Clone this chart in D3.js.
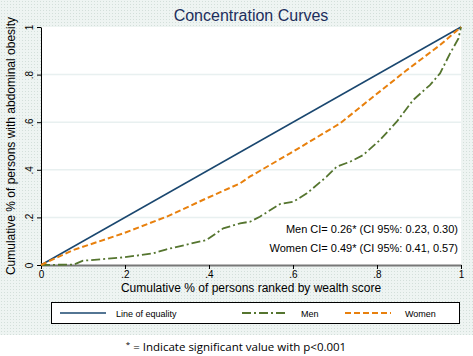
<!DOCTYPE html>
<html>
<head>
<meta charset="utf-8">
<script src="https://cdn.jsdelivr.net/npm/d3@7"></script>
<style>
  body { margin: 0; background: #fff; }
  svg { display: block; font-family: "Liberation Sans", Arial, sans-serif; }
</style>
</head>
<body>
<div id="chart"></div>
<script>
var tickValues = [0, 0.2, 0.4, 0.6, 0.8, 1];
var tickLabels = ["0", ".2", ".4", ".6", ".8", "1"];

var equalityX = [0, 1];
var equalityY = [0, 1];

var womenX = [0, 0.077, 0.196, 0.299, 0.394, 0.474, 0.498, 0.593, 0.712, 0.791, 0.871, 0.95, 1];
var womenY = [0, 0.063, 0.133, 0.203, 0.28, 0.343, 0.372, 0.469, 0.595, 0.707, 0.819, 0.924, 1];

var menX = [0, 0.079, 0.1, 0.196, 0.267, 0.299, 0.394, 0.434, 0.474, 0.498, 0.521, 0.569, 0.601, 0.633, 0.68, 0.704, 0.736, 0.767, 0.807, 0.847, 0.886, 0.926, 0.95, 0.974, 0.994, 1];
var menY = [0, 0.002, 0.018, 0.032, 0.049, 0.066, 0.105, 0.154, 0.175, 0.182, 0.203, 0.256, 0.266, 0.301, 0.371, 0.413, 0.434, 0.462, 0.525, 0.602, 0.693, 0.756, 0.805, 0.889, 0.952, 1];

var ciTexts = ["Men CI= 0.26* (CI 95%: 0.23, 0.30)", "Women CI= 0.49* (CI 95%: 0.41, 0.57)"];

var W = 473, H = 356;
var plot = { left: 41, right: 461, top: 27, bottom: 265 };

var svg = d3.select("#chart").append("svg")
    .attr("width", W)
    .attr("height", H);

// dotted Stata-like background
var defs = svg.append("defs");
var pat = defs.append("pattern")
    .attr("id", "dots")
    .attr("width", 3).attr("height", 3)
    .attr("patternUnits", "userSpaceOnUse");
pat.append("rect").attr("width", 3).attr("height", 3).attr("fill", "#eef4f2");
pat.append("rect").attr("x", 1).attr("y", 1).attr("width", 1).attr("height", 1).attr("fill", "#d3dfda");

svg.append("rect")
    .attr("x", 0).attr("y", 0)
    .attr("width", W).attr("height", 335)
    .attr("fill", "url(#dots)");

var x = d3.scaleLinear().domain([0, 1]).range([plot.left, plot.right]);
var y = d3.scaleLinear().domain([0, 1]).range([plot.bottom, plot.top]);

// plot region
svg.append("rect")
    .attr("x", plot.left).attr("y", plot.top)
    .attr("width", plot.right - plot.left)
    .attr("height", plot.bottom - plot.top)
    .attr("fill", "#fff");

// gridlines
svg.append("g")
    .selectAll("line")
    .data(tickValues.slice(1, 5))
    .enter().append("line")
    .attr("x1", plot.left).attr("x2", plot.right)
    .attr("y1", function(d) { return y(d); })
    .attr("y2", function(d) { return y(d); })
    .attr("stroke", "#e8f0f0")
    .attr("stroke-width", 1.5);

// title
svg.append("text")
    .attr("x", 251).attr("y", 21)
    .attr("text-anchor", "middle")
    .style("font-size", "16px")
    .style("fill", "#1c2e5c")
    .text("Concentration Curves");

// axes
var xAxis = svg.append("g")
    .attr("transform", "translate(0," + plot.bottom + ")")
    .call(d3.axisBottom(x).tickValues(tickValues)
        .tickFormat(function(d, i) { return tickLabels[i]; })
        .tickSize(4).tickSizeOuter(0));
xAxis.select(".domain").attr("stroke", "#777").attr("stroke-width", 2);
xAxis.selectAll(".tick line").attr("stroke", "#000");
xAxis.selectAll("text")
    .attr("y", 6)
    .style("font-size", "10px")
    .style("font-family", "Liberation Sans, Arial, sans-serif");

var yAxis = svg.append("g")
    .attr("transform", "translate(" + plot.left + ",0)")
    .call(d3.axisLeft(y).tickValues(tickValues)
        .tickFormat(function(d, i) { return tickLabels[i]; })
        .tickSize(4).tickSizeOuter(0));
yAxis.select(".domain").attr("stroke", "#000");
yAxis.selectAll(".tick line").attr("stroke", "#000");
yAxis.selectAll("text")
    .attr("x", 0).attr("dy", 0)
    .attr("text-anchor", "middle")
    .attr("transform", "translate(-8,0) rotate(-90)")
    .style("font-size", "10px")
    .style("font-family", "Liberation Sans, Arial, sans-serif");

// axis titles
svg.append("text")
    .attr("transform", "translate(15," + ((plot.top + plot.bottom) / 2) + ") rotate(-90)")
    .attr("text-anchor", "middle")
    .style("font-size", "12px")
    .text("Cumulative % of persons with abdominal obesity");

svg.append("text")
    .attr("x", 251).attr("y", 292)
    .attr("text-anchor", "middle")
    .style("font-size", "12px")
    .text("Cumulative % of persons ranked by wealth score");

// curves
var line = d3.line()
    .x(function(d) { return x(d[0]); })
    .y(function(d) { return y(d[1]); });

var series = [
    { name: "Line of equality", xs: equalityX, ys: equalityY, color: "#1a476f", dash: null, width: 1.5 },
    { name: "Men", xs: menX, ys: menY, color: "#55752f", dash: "9,3,2,3", width: 1.8 },
    { name: "Women", xs: womenX, ys: womenY, color: "#e8800d", dash: "6,3", width: 2 }
];

series.forEach(function(s) {
    svg.append("path")
        .datum(s.xs.map(function(v, i) { return [v, s.ys[i]]; }))
        .attr("d", line)
        .attr("fill", "none")
        .attr("stroke", s.color)
        .attr("stroke-width", s.width)
        .attr("stroke-dasharray", s.dash);
});

// CI annotations
svg.selectAll(".ci")
    .data(ciTexts)
    .enter().append("text")
    .attr("class", "ci")
    .attr("x", 458)
    .attr("y", function(d, i) { return 233 + i * 19; })
    .attr("text-anchor", "end")
    .style("font-size", "11px")
    .text(function(d) { return d; });

// legend
var legend = svg.append("g");
legend.append("rect")
    .attr("x", 51.5).attr("y", 302.5)
    .attr("width", 408).attr("height", 21)
    .attr("fill", "#fff")
    .attr("stroke", "#000");

var legendPos = [
    { lx: 60, tx: 116 },
    { lx: 242, tx: 301 },
    { lx: 345, tx: 405 }
];
series.forEach(function(s, i) {
    legend.append("line")
        .attr("x1", legendPos[i].lx).attr("x2", legendPos[i].lx + 46)
        .attr("y1", 313).attr("y2", 313)
        .attr("stroke", s.color)
        .attr("stroke-width", s.width)
        .attr("stroke-dasharray", s.dash);
    legend.append("text")
        .attr("x", legendPos[i].tx).attr("y", 316.5)
        .style("font-size", "9px")
        .text(s.name);
});

// footnote
var foot = svg.append("text")
    .attr("x", 236).attr("y", 351)
    .attr("text-anchor", "middle")
    .style("font-size", "11.5px")
    .style("font-family", "Open Sans, DejaVu Sans, sans-serif");
foot.append("tspan").attr("dy", -4).style("font-size", "8px").text("*");
foot.append("tspan").attr("dy", 4).text(" = Indicate significant value with p<0.001");
</script>
</body>
</html>
